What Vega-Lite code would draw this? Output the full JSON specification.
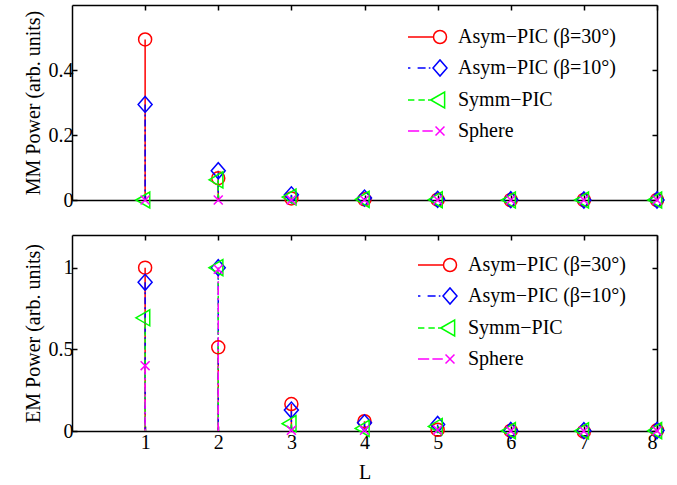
{
  "$schema": "https://vega.github.io/schema/vega-lite/v6.json",
  "padding": {"left": 23, "top": 4, "right": 20, "bottom": 6},
  "background": "white",
  "config": {
    "view": {"stroke": null},
    "font": "Liberation Serif",
    "axis": {
      "domainColor": "black", "domainWidth": 1.5, "tickColor": "black", "tickWidth": 1.5,
      "labelFont": "Liberation Serif", "labelFontSize": 20, "labelColor": "black",
      "titleFont": "Liberation Serif", "titleFontSize": 20, "titleFontWeight": "normal", "titleColor": "black",
      "grid": false, "tickSize": -5, "labelPadding": 4
    },
    "legend": {
      "labelFont": "Liberation Serif", "labelFontSize": 20, "labelColor": "black", "labelLimit": 300
    }
  },
  "datasets": {
    "keys": [
      {"k": "Asym−PIC (β=30°)"}, {"k": "Asym−PIC (β=10°)"}, {"k": "Symm−PIC"}, {"k": "Sphere"}
    ],
    "mm": [
      {"L": 1, "s": "Asym−PIC (β=30°)", "v": 0.494},
      {"L": 1, "s": "Asym−PIC (β=10°)", "v": 0.294},
      {"L": 1, "s": "Symm−PIC", "v": 0.0},
      {"L": 1, "s": "Sphere", "v": 0.0},
      {"L": 2, "s": "Asym−PIC (β=30°)", "v": 0.067},
      {"L": 2, "s": "Asym−PIC (β=10°)", "v": 0.09},
      {"L": 2, "s": "Symm−PIC", "v": 0.062},
      {"L": 2, "s": "Sphere", "v": 0.0},
      {"L": 3, "s": "Asym−PIC (β=30°)", "v": 0.005},
      {"L": 3, "s": "Asym−PIC (β=10°)", "v": 0.016},
      {"L": 3, "s": "Symm−PIC", "v": 0.009},
      {"L": 3, "s": "Sphere", "v": 0.0},
      {"L": 4, "s": "Asym−PIC (β=30°)", "v": 0.002},
      {"L": 4, "s": "Asym−PIC (β=10°)", "v": 0.006},
      {"L": 4, "s": "Symm−PIC", "v": 0.002},
      {"L": 4, "s": "Sphere", "v": 0.0},
      {"L": 5, "s": "Asym−PIC (β=30°)", "v": 0.001},
      {"L": 5, "s": "Asym−PIC (β=10°)", "v": 0.002},
      {"L": 5, "s": "Symm−PIC", "v": 0.001},
      {"L": 5, "s": "Sphere", "v": 0.0},
      {"L": 6, "s": "Asym−PIC (β=30°)", "v": 0.0},
      {"L": 6, "s": "Asym−PIC (β=10°)", "v": 0.001},
      {"L": 6, "s": "Symm−PIC", "v": 0.0},
      {"L": 6, "s": "Sphere", "v": 0.0},
      {"L": 7, "s": "Asym−PIC (β=30°)", "v": 0.0},
      {"L": 7, "s": "Asym−PIC (β=10°)", "v": 0.0},
      {"L": 7, "s": "Symm−PIC", "v": 0.0},
      {"L": 7, "s": "Sphere", "v": 0.0},
      {"L": 8, "s": "Asym−PIC (β=30°)", "v": 0.0},
      {"L": 8, "s": "Asym−PIC (β=10°)", "v": 0.0},
      {"L": 8, "s": "Symm−PIC", "v": 0.0},
      {"L": 8, "s": "Sphere", "v": 0.0}
    ],
    "em": [
      {"L": 1, "s": "Asym−PIC (β=30°)", "v": 1.0},
      {"L": 1, "s": "Asym−PIC (β=10°)", "v": 0.91},
      {"L": 1, "s": "Symm−PIC", "v": 0.693},
      {"L": 1, "s": "Sphere", "v": 0.40},
      {"L": 2, "s": "Asym−PIC (β=30°)", "v": 0.512},
      {"L": 2, "s": "Asym−PIC (β=10°)", "v": 1.0},
      {"L": 2, "s": "Symm−PIC", "v": 1.0},
      {"L": 2, "s": "Sphere", "v": 0.99},
      {"L": 3, "s": "Asym−PIC (β=30°)", "v": 0.165},
      {"L": 3, "s": "Asym−PIC (β=10°)", "v": 0.128},
      {"L": 3, "s": "Symm−PIC", "v": 0.045},
      {"L": 3, "s": "Sphere", "v": 0.004},
      {"L": 4, "s": "Asym−PIC (β=30°)", "v": 0.06},
      {"L": 4, "s": "Asym−PIC (β=10°)", "v": 0.05},
      {"L": 4, "s": "Symm−PIC", "v": 0.016},
      {"L": 4, "s": "Sphere", "v": 0.005},
      {"L": 5, "s": "Asym−PIC (β=30°)", "v": 0.008},
      {"L": 5, "s": "Asym−PIC (β=10°)", "v": 0.04},
      {"L": 5, "s": "Symm−PIC", "v": 0.028},
      {"L": 5, "s": "Sphere", "v": 0.006},
      {"L": 6, "s": "Asym−PIC (β=30°)", "v": 0.002},
      {"L": 6, "s": "Asym−PIC (β=10°)", "v": 0.003},
      {"L": 6, "s": "Symm−PIC", "v": 0.002},
      {"L": 6, "s": "Sphere", "v": 0.001},
      {"L": 7, "s": "Asym−PIC (β=30°)", "v": -0.004},
      {"L": 7, "s": "Asym−PIC (β=10°)", "v": 0.002},
      {"L": 7, "s": "Symm−PIC", "v": 0.001},
      {"L": 7, "s": "Sphere", "v": 0.0},
      {"L": 8, "s": "Asym−PIC (β=30°)", "v": 0.004},
      {"L": 8, "s": "Asym−PIC (β=10°)", "v": 0.003},
      {"L": 8, "s": "Symm−PIC", "v": 0.002},
      {"L": 8, "s": "Sphere", "v": 0.001}
    ]
  },
  "spacing": 35,
  "bounds": "flush",
  "resolve": {"scale": {"color": "independent", "shape": "independent", "strokeDash": "independent"}},
  "vconcat": [
    {
      "width": 585, "height": 195,
      "layer": [
        {
          "data": {"name": "mm"},
          "mark": {"type": "rule", "strokeWidth": 1.5},
          "encoding": {
            "x": {"field": "L", "type": "quantitative", "scale": {"domain": [0, 8], "nice": false, "zero": false},
                  "axis": {"orient": "bottom", "values": [1,2,3,4,5,6,7,8], "labels": false, "title": null}},
            "y": {"field": "v", "type": "quantitative", "scale": {"domain": [0, 0.6], "nice": false},
                  "axis": {"orient": "left", "values": [0, 0.2, 0.4], "format": "~g", "title": "MM Power (arb. units)", "titlePadding": 5}},
            "y2": {"datum": 0},
            "color": {"field": "s", "type": "nominal",
                      "scale": {"domain": ["Asym−PIC (β=30°)", "Asym−PIC (β=10°)", "Symm−PIC", "Sphere"], "range": ["#ff0000", "#0000ff", "#00ff00", "#ff00ff"]},
                      "legend": null},
            "strokeDash": {"field": "s", "type": "nominal",
                      "scale": {"domain": ["Asym−PIC (β=30°)", "Asym−PIC (β=10°)", "Symm−PIC", "Sphere"], "range": [[1, 0], [7, 3, 2, 3], [4, 3], [9, 3, 2, 3]]},
                      "legend": null}
          }
        },
        {
          "data": {"name": "mm"},
          "mark": {"type": "point", "filled": false, "size": 256, "strokeWidth": 1.5, "opacity": 1},
          "encoding": {
            "x": {"field": "L", "type": "quantitative", "scale": {"domain": [0, 8], "nice": false, "zero": false},
                  "axis": {"orient": "top", "values": [1,2,3,4,5,6,7,8], "labels": false, "title": null}},
            "y": {"field": "v", "type": "quantitative", "scale": {"domain": [0, 0.6], "nice": false},
                  "axis": {"orient": "right", "values": [0, 0.2, 0.4], "labels": false, "title": null}},
            "color": {"field": "s", "type": "nominal",
                      "scale": {"domain": ["Asym−PIC (β=30°)", "Asym−PIC (β=10°)", "Symm−PIC", "Sphere"], "range": ["#ff0000", "#0000ff", "#00ff00", "#ff00ff"]},
                      "legend": null},
            "shape": {"field": "s", "type": "nominal",
                      "scale": {"domain": ["Asym−PIC (β=30°)", "Asym−PIC (β=10°)", "Symm−PIC", "Sphere"],
                                "range": ["M0.8125,0A0.8125,0.8125,0,1,1,-0.8125,0A0.8125,0.8125,0,1,1,0.8125,0Z", "M-0.875,0L0,-1L0.875,0L0,1Z", "M-1.155,0L0.577,-1L0.577,1Z", "M-0.56,-0.56L0.56,0.56M-0.56,0.56L0.56,-0.56"]},
                      "legend": null}
          }
        },
        {
          "data": {"name": "keys"},
          "transform": [{"filter": "false"}],
          "mark": {"type": "point", "filled": false, "size": 256, "strokeWidth": 1.5, "opacity": 1},
          "encoding": {
            "color": {"field": "k", "type": "nominal",
                      "scale": {"domain": ["Asym−PIC (β=30°)", "Asym−PIC (β=10°)", "Symm−PIC", "Sphere"], "range": ["#ff0000", "#0000ff", "#00ff00", "#ff00ff"]},
                      "legend": {"orient": "none", "legendX": 358, "legendY": 22, "title": null, "padding": 0,
                                 "rowPadding": 10, "labelOffset": 8, "symbolSize": 256, "symbolStrokeWidth": 1.5}},
            "shape": {"field": "k", "type": "nominal",
                      "scale": {"domain": ["Asym−PIC (β=30°)", "Asym−PIC (β=10°)", "Symm−PIC", "Sphere"],
                                "range": ["M-4,0H-0.8125M0.8125,0A0.8125,0.8125,0,1,1,-0.8125,0A0.8125,0.8125,0,1,1,0.8125,0Z", "M-4,0H-3.7M-2.8,0H-1.8M-1.4,0H-1.2M-0.875,0L0,-1L0.875,0L0,1Z", "M-4,0H-3.2M-2.7,0H-1.9M-1.5,0H-1.155M-1.155,0L0.577,-1L0.577,1Z", "M-4,0H-2.6M-2.2,0H-0.9M-0.56,-0.56L0.56,0.56M-0.56,0.56L0.56,-0.56"]},
                      "legend": {"orient": "none", "legendX": 358, "legendY": 22, "title": null, "padding": 0,
                                 "rowPadding": 10, "labelOffset": 8, "symbolSize": 256, "symbolStrokeWidth": 1.5}}
          }
        }
      ],
      "resolve": {"axis": {"x": "independent", "y": "independent"}, "scale": {"color": "independent", "shape": "independent"}}
    },
    {
      "width": 585, "height": 196,
      "layer": [
        {
          "data": {"name": "em"},
          "mark": {"type": "rule", "strokeWidth": 1.5},
          "encoding": {
            "x": {"field": "L", "type": "quantitative", "scale": {"domain": [0, 8], "nice": false, "zero": false},
                  "axis": {"orient": "bottom", "values": [1,2,3,4,5,6,7,8], "title": "L", "labelPadding": 6, "titlePadding": 10}},
            "y": {"field": "v", "type": "quantitative", "scale": {"domain": [0, 1.2], "nice": false},
                  "axis": {"orient": "left", "values": [0, 0.5, 1], "format": "~g", "title": "EM Power (arb. units)", "titlePadding": 5}},
            "y2": {"datum": 0},
            "color": {"field": "s", "type": "nominal",
                      "scale": {"domain": ["Asym−PIC (β=30°)", "Asym−PIC (β=10°)", "Symm−PIC", "Sphere"], "range": ["#ff0000", "#0000ff", "#00ff00", "#ff00ff"]},
                      "legend": null},
            "strokeDash": {"field": "s", "type": "nominal",
                      "scale": {"domain": ["Asym−PIC (β=30°)", "Asym−PIC (β=10°)", "Symm−PIC", "Sphere"], "range": [[1, 0], [7, 3, 2, 3], [4, 3], [9, 3, 2, 3]]},
                      "legend": null}
          }
        },
        {
          "data": {"name": "em"},
          "mark": {"type": "point", "filled": false, "size": 256, "strokeWidth": 1.5, "opacity": 1},
          "encoding": {
            "x": {"field": "L", "type": "quantitative", "scale": {"domain": [0, 8], "nice": false, "zero": false},
                  "axis": {"orient": "top", "values": [1,2,3,4,5,6,7,8], "labels": false, "title": null}},
            "y": {"field": "v", "type": "quantitative", "scale": {"domain": [0, 1.2], "nice": false},
                  "axis": {"orient": "right", "values": [0, 0.5, 1], "labels": false, "title": null}},
            "color": {"field": "s", "type": "nominal",
                      "scale": {"domain": ["Asym−PIC (β=30°)", "Asym−PIC (β=10°)", "Symm−PIC", "Sphere"], "range": ["#ff0000", "#0000ff", "#00ff00", "#ff00ff"]},
                      "legend": null},
            "shape": {"field": "s", "type": "nominal",
                      "scale": {"domain": ["Asym−PIC (β=30°)", "Asym−PIC (β=10°)", "Symm−PIC", "Sphere"],
                                "range": ["M0.8125,0A0.8125,0.8125,0,1,1,-0.8125,0A0.8125,0.8125,0,1,1,0.8125,0Z", "M-0.875,0L0,-1L0.875,0L0,1Z", "M-1.155,0L0.577,-1L0.577,1Z", "M-0.56,-0.56L0.56,0.56M-0.56,0.56L0.56,-0.56"]},
                      "legend": null}
          }
        },
        {
          "data": {"name": "keys"},
          "transform": [{"filter": "false"}],
          "mark": {"type": "point", "filled": false, "size": 256, "strokeWidth": 1.5, "opacity": 1},
          "encoding": {
            "color": {"field": "k", "type": "nominal",
                      "scale": {"domain": ["Asym−PIC (β=30°)", "Asym−PIC (β=10°)", "Symm−PIC", "Sphere"], "range": ["#ff0000", "#0000ff", "#00ff00", "#ff00ff"]},
                      "legend": {"orient": "none", "legendX": 368, "legendY": 20, "title": null, "padding": 0,
                                 "rowPadding": 10, "labelOffset": 8, "symbolSize": 256, "symbolStrokeWidth": 1.5}},
            "shape": {"field": "k", "type": "nominal",
                      "scale": {"domain": ["Asym−PIC (β=30°)", "Asym−PIC (β=10°)", "Symm−PIC", "Sphere"],
                                "range": ["M-4,0H-0.8125M0.8125,0A0.8125,0.8125,0,1,1,-0.8125,0A0.8125,0.8125,0,1,1,0.8125,0Z", "M-4,0H-3.7M-2.8,0H-1.8M-1.4,0H-1.2M-0.875,0L0,-1L0.875,0L0,1Z", "M-4,0H-3.2M-2.7,0H-1.9M-1.5,0H-1.155M-1.155,0L0.577,-1L0.577,1Z", "M-4,0H-2.6M-2.2,0H-0.9M-0.56,-0.56L0.56,0.56M-0.56,0.56L0.56,-0.56"]},
                      "legend": {"orient": "none", "legendX": 368, "legendY": 20, "title": null, "padding": 0,
                                 "rowPadding": 10, "labelOffset": 8, "symbolSize": 256, "symbolStrokeWidth": 1.5}}
          }
        }
      ],
      "resolve": {"axis": {"x": "independent", "y": "independent"}, "scale": {"color": "independent", "shape": "independent"}}
    }
  ]
}
